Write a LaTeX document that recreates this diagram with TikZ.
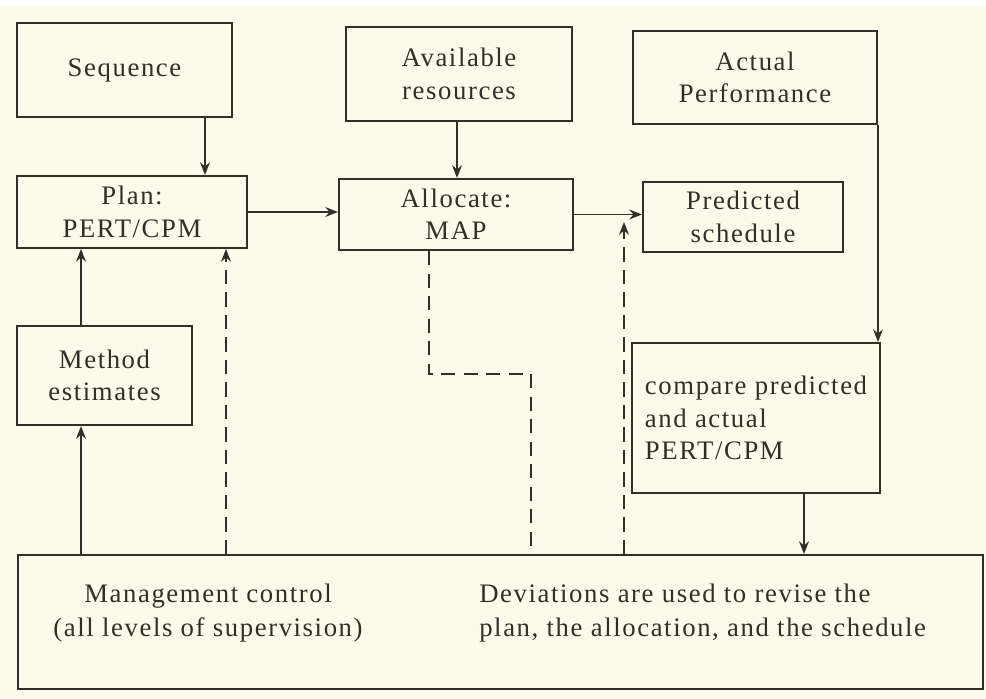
\documentclass[tikz,border=0pt]{standalone}
\usepackage{fontspec}
\setmainfont{Liberation Serif}[LetterSpace=6]
\usetikzlibrary{arrows.meta,positioning}
\definecolor{paper}{RGB}{252,250,234}
\definecolor{ink}{RGB}{52,46,40}

\begin{document}
\begin{tikzpicture}[x=0.025cm,y=-0.025cm]
            \tikzstyle{box}=[rectangle,draw=ink,line width=1.4pt,text=ink,align=center,
                             font=\fontsize{19}{23}\selectfont,inner sep=2pt]
            \tikzstyle{txt}=[text=ink,font=\fontsize{19}{24}\selectfont,inner sep=0pt]

            \tikzstyle{arr}=[draw=ink,line width=1.1pt,-{Stealth[length=9pt,width=7pt]}]
            \tikzstyle{fback}=[draw=ink,line width=1.1pt,dash pattern=on 10pt off 6pt]

            % paper
            \fill[white] (0,0) rectangle (986,698);
            \fill[paper] (0,6) rectangle (986,698);

            \node[box,minimum width=5.38cm,minimum height=2.35cm] (seq) at (124.5,70) {Sequence};
            \node[box,minimum width=5.65cm,minimum height=2.35cm] (avail) at (459,74) {Available\\resources};
            \node[box,minimum width=6.1cm,minimum height=2.33cm] (actual) at (755,77.5) {Actual\\Performance};

            \node[box,minimum width=5.75cm,minimum height=1.8cm] (plan) at (132,212) {Plan:\\PERT/CPM};
            \node[box,minimum width=5.85cm,minimum height=1.78cm] (alloc) at (456,214.5) {Allocate:\\MAP};
            \node[box,minimum width=5cm,minimum height=1.75cm] (pred) at (743,217) {Predicted\\schedule};

            \node[box,minimum width=4.38cm,minimum height=2.48cm] (method) at (104.5,375.5) {Method\\estimates};
            \node[box,align=left,minimum width=6.18cm,minimum height=3.75cm] (compare) at (756,418)
                {compare predicted\\and actual\\PERT/CPM};

            \node[box,minimum width=24.125cm,minimum height=3.35cm] (bottom) at (500.5,622) {};
            \node[txt,align=center] (mgmt) at (208,613) {Management control\\(all levels of supervision)};
            \node[txt,align=left,anchor=west] (dev) at (479,613)
                {Deviations are used to revise the\\plan, the allocation, and the schedule};

            \coordinate (tip) at (624,222);   % arrow to the schedule link

            \path[arr] (seq.south -| 205,0) -- (plan.north -| 205,0);
            \path[arr] (avail.south -| 457,0) -- (alloc.north -| 457,0);
            \path[arr] (plan.east) -- (plan.east -| alloc.west);
            \path[arr] (alloc.east) -- (alloc.east -| pred.west);
            \path[arr] (actual.south east) -- (actual.south east |- compare.north);
            \path[arr] (compare.south -| 804,0) -- (bottom.north -| 804,0);
            \path[arr] (method.north -| 81,0) -- (plan.south -| 81,0);
            \path[arr] (bottom.north -| 81,0) -- (method.south -| 81,0);

            % feedback
            \path[fback,-{Stealth[length=9pt,width=7pt]}] (bottom.north -| 226,0) -- (plan.south -| 226,0);
            \path[fback] (alloc.south -| 429,0) |- (531,374) -- (bottom.north -| 531,0);
            \path[fback,-{Stealth[length=9pt,width=7pt]}] (bottom.north -| 624,0) -- (tip);
\end{tikzpicture}
\end{document}
